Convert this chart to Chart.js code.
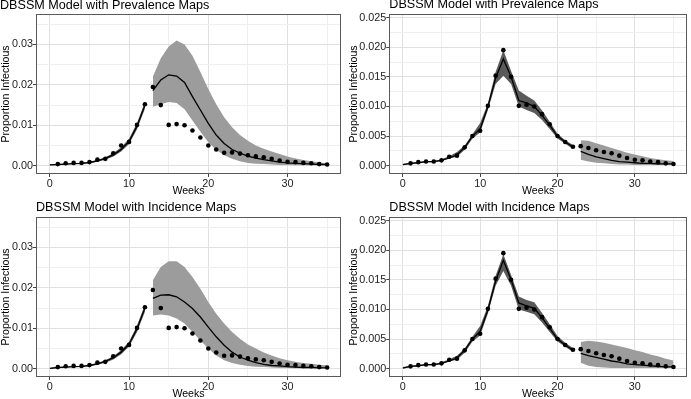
<!DOCTYPE html>
<html><head><meta charset="utf-8">
<script src="https://cdn.jsdelivr.net/npm/chart.js@4.4.1/dist/chart.umd.min.js"></script>
<style>
html,body{margin:0;padding:0;background:#fff;width:691px;height:399px;overflow:hidden;position:relative}
canvas{position:absolute;display:block}
</style></head><body>
<canvas id="c1" width="345" height="203" style="left:0px;top:-4px;width:345px;height:203px"></canvas>
<canvas id="c2" width="344" height="203" style="left:347px;top:-4px;width:344px;height:203px"></canvas>
<canvas id="c3" width="345" height="203" style="left:0px;top:199px;width:345px;height:203px"></canvas>
<canvas id="c4" width="344" height="203" style="left:347px;top:199px;width:344px;height:203px"></canvas>
<script>
// ---- data ----
const weeks = [1,2,3,4,5,6,7,8,9,10,11,12,13,14,15,16,17,18,19,20,21,22,23,24,25,26,27,28,29,30,31,32,33,34,35];
const observed = [0.0004,0.0006,0.0007,0.0007,0.0009,0.0015,0.0017,0.0031,0.0050,0.0059,0.0101,0.0152,0.0195,0.0150,0.0101,0.0103,0.0100,0.0087,0.0070,0.0050,0.0040,0.0032,0.0033,0.0030,0.0026,0.0023,0.0021,0.0017,0.0013,0.0010,0.0009,0.0007,0.0006,0.0004,0.0003];

const fitWeeksA = [0,1,2,3,4,5,6,7,8,9,10,11,12];
const projWeeksA = [13,14,15,16,17,18,19,20,21,22,23,24,25,26,27,28,29,30,31,32,33,34,35];
const fitWeeksB = [0,1,2,3,4,5,6,7,8,9,10,11,12,13,14,15,16,17,18,19,20,21,22];
const projWeeksB = [23,24,25,26,27,28,29,30,31,32,33,34,35];

// Prevalence maps, forecast from week 13
const prevFitMeanA = [0.0002,0.0003,0.0004,0.0005,0.0006,0.0008,0.0012,0.0018,0.0027,0.0040,0.0060,0.0098,0.0150];
const prevFitLoA   = [0.0001,0.0002,0.0003,0.0004,0.0005,0.0006,0.0010,0.0015,0.0023,0.0035,0.0054,0.0090,0.0141];
const prevFitHiA   = [0.0003,0.0004,0.0005,0.0006,0.0007,0.0010,0.0014,0.0021,0.0031,0.0046,0.0067,0.0106,0.0158];
const prevProjMeanA = [0.0186,0.0212,0.0225,0.0222,0.0206,0.0171,0.0138,0.0105,0.0076,0.0055,0.0040,0.0031,0.0024,0.0019,0.0015,0.0012,0.0009,0.0007,0.0006,0.0005,0.0004,0.0003,0.0003];
const prevProjLoA   = [0.0146,0.0152,0.0158,0.0155,0.0140,0.0112,0.0084,0.0058,0.0039,0.0026,0.0017,0.0011,0.0007,0.0005,0.0004,0.0003,0.0002,0.0002,0.0001,0.0001,0.0001,0.0001,0.0001];
const prevProjHiA   = [0.0220,0.0266,0.0295,0.0310,0.0300,0.0272,0.0232,0.0190,0.0152,0.0120,0.0095,0.0076,0.0062,0.0050,0.0042,0.0035,0.0029,0.0023,0.0018,0.0014,0.0011,0.0008,0.0006];

// Prevalence maps, forecast from week 23
const prevFitMeanB = [0.0002,0.0004,0.0005,0.0007,0.0007,0.0009,0.0013,0.0018,0.0031,0.0050,0.0062,0.0100,0.0148,0.0180,0.0150,0.0110,0.0106,0.0100,0.0085,0.0068,0.0050,0.0040,0.0032];
const prevFitLoB   = [0.0001,0.0003,0.0004,0.0006,0.0006,0.0008,0.0012,0.0015,0.0027,0.0046,0.0056,0.0094,0.0138,0.0152,0.0138,0.0100,0.0094,0.0089,0.0077,0.0062,0.0046,0.0037,0.0028];
const prevFitHiB   = [0.0003,0.0005,0.0006,0.0008,0.0008,0.0011,0.0016,0.0023,0.0034,0.0053,0.0072,0.0105,0.0158,0.0195,0.0160,0.0127,0.0118,0.0110,0.0093,0.0074,0.0054,0.0043,0.0035];
const prevProjMeanB = [0.0024,0.0019,0.0015,0.0012,0.0009,0.0007,0.0006,0.0005,0.0004,0.0004,0.0003,0.0003,0.0003];
const prevProjLoB   = [0.0010,0.0007,0.0005,0.0004,0.0003,0.0002,0.0002,0.0001,0.0001,0.0001,0.0001,0.0001,0.0001];
const prevProjHiB   = [0.0043,0.0042,0.0038,0.0034,0.0030,0.0026,0.0022,0.0019,0.0016,0.0013,0.0011,0.0009,0.0008];

// Incidence maps, forecast from week 13
const incFitMeanA = [0.0001,0.0003,0.0004,0.0005,0.0006,0.0008,0.0012,0.0018,0.0027,0.0041,0.0061,0.0099,0.0150];
const incFitLoA   = [0.0000,0.0002,0.0003,0.0004,0.0005,0.0006,0.0010,0.0015,0.0023,0.0036,0.0055,0.0091,0.0141];
const incFitHiA   = [0.0002,0.0004,0.0005,0.0006,0.0007,0.0010,0.0014,0.0021,0.0031,0.0046,0.0067,0.0107,0.0159];
const incProjMeanA = [0.0174,0.0182,0.0183,0.0178,0.0165,0.0149,0.0128,0.0103,0.0079,0.0058,0.0041,0.0029,0.0021,0.0015,0.0011,0.0008,0.0007,0.0005,0.0004,0.0003,0.0003,0.0002,0.0002];
const incProjLoA   = [0.0132,0.0134,0.0132,0.0124,0.0112,0.0091,0.0070,0.0050,0.0033,0.0021,0.0014,0.0010,0.0007,0.0005,0.0004,0.0003,0.0002,0.0002,0.0001,0.0001,0.0001,0.0001,0.0001];
const incProjHiA   = [0.0219,0.0252,0.0266,0.0266,0.0252,0.0227,0.0198,0.0165,0.0136,0.0112,0.0091,0.0074,0.0060,0.0050,0.0040,0.0033,0.0026,0.0021,0.0017,0.0014,0.0012,0.0010,0.0008];

// Incidence maps, forecast from week 23
const incFitMeanB = [0.0001,0.0004,0.0005,0.0007,0.0007,0.0009,0.0013,0.0018,0.0031,0.0050,0.0063,0.0099,0.0148,0.0183,0.0150,0.0111,0.0106,0.0102,0.0086,0.0068,0.0050,0.0040,0.0031];
const incFitLoB   = [0.0001,0.0003,0.0004,0.0006,0.0006,0.0008,0.0012,0.0015,0.0027,0.0046,0.0056,0.0093,0.0140,0.0165,0.0140,0.0100,0.0096,0.0092,0.0078,0.0062,0.0046,0.0037,0.0028];
const incFitHiB   = [0.0003,0.0005,0.0006,0.0008,0.0008,0.0011,0.0016,0.0022,0.0034,0.0054,0.0072,0.0106,0.0157,0.0193,0.0158,0.0122,0.0116,0.0112,0.0094,0.0075,0.0055,0.0044,0.0035];
const incProjMeanB = [0.0026,0.0022,0.0019,0.0016,0.0013,0.0011,0.0008,0.0007,0.0006,0.0005,0.0004,0.0003,0.0003];
const incProjLoB   = [0.0010,0.0005,0.0003,0.0002,0.0001,0.0001,0.0001,0.0001,0.0001,0.0001,0.0001,0.0001,0.0001];
const incProjHiB   = [0.0045,0.0047,0.0046,0.0044,0.0041,0.0038,0.0035,0.0031,0.0028,0.0024,0.0021,0.0017,0.0014];

const xMajorTicks = [0,10,20,30];
const xMinorTicks = [5,15,25,35];
const yTicksA = [0,0.01,0.02,0.03];
const yMinorA = [0.005,0.015,0.025,0.035];
const yTicksB = [0,0.005,0.010,0.015,0.020,0.025];
const yMinorB = [0.0025,0.0075,0.0125,0.0175,0.0225];

const titlePrev = 'DBSSM Model with Prevalence Maps';
const titleInc = 'DBSSM Model with Incidence Maps';

// ---- rendering ----
Chart.defaults.font.family = "'Liberation Sans', Arial, Helvetica, sans-serif";
Chart.defaults.color = '#000';

const zip = (xs, ys) => xs.map((x, i) => ({x: x, y: ys[i]}));
const isIn = (arr, v) => arr.some(a => Math.abs(a - v) < 1e-9);

const framePlugin = {
  id: 'frame',
  afterDraw(chart) {
    const a = chart.chartArea, c = chart.ctx;
    c.save();
    c.strokeStyle = '#5a5a5a';
    c.lineWidth = 1;
    c.strokeRect(Math.round(a.left) + 0.5, Math.round(a.top) + 0.5, Math.round(a.right - a.left) - 1, Math.round(a.bottom - a.top) - 1);
    c.restore();
  }
};

function makePanel(id, o) {
  const band = (xs, lo, hi, col, loIndex) => ([
    {data: zip(xs, lo), order: 3, borderWidth: 0, pointRadius: 0, fill: false, backgroundColor: col, borderColor: 'rgba(0,0,0,0)'},
    {data: zip(xs, hi), order: 3, borderWidth: 0, pointRadius: 0, fill: {target: loIndex}, backgroundColor: col, borderColor: 'rgba(0,0,0,0)'}
  ]);
  const line = (xs, ys) => ({data: zip(xs, ys), order: 2, borderColor: '#000', borderWidth: 1.3, pointRadius: 0, fill: false, tension: 0});
  const datasets = [
    ...band(o.fitX, o.fitLo, o.fitHi, o.fitCol, 0),
    ...band(o.projX, o.projLo, o.projHi, o.projCol, 2),
    line(o.fitX, o.fitMean),
    line(o.projX, o.projMean),
    {data: zip(weeks, observed), order: 1, showLine: false, pointRadius: 2.3, pointBackgroundColor: '#000', pointBorderWidth: 0, borderColor: '#000', fill: false}
  ];
  const gridCol = (minor) => (ctx) => ctx.tick && isIn(minor, ctx.tick.value) ? '#efefef' : '#e0e0e0';
  new Chart(document.getElementById(id), {
    type: 'line',
    data: {datasets},
    plugins: [framePlugin],
    options: {
      responsive: false,
      animation: false,
      events: [],
      layout: {padding: {left: 0, right: o.padRight, top: 0, bottom: 0}},
      plugins: {
        legend: {display: false},
        tooltip: {enabled: false},
        title: {
          display: true, text: o.title, align: 'start', fullSize: o.fullTitle,
          color: '#000', font: {size: 12.6, weight: 'normal', lineHeight: 1.17},
          padding: {top: o.titleTop, bottom: 3.26 - o.titleTop}
        }
      },
      scales: {
        x: {
          type: 'linear', min: -1.75, max: 36.75,
          afterBuildTicks: s => { s.ticks = [...xMajorTicks, ...xMinorTicks].sort((a,b)=>a-b).map(v => ({value: v})); },
          afterFit: s => { s.height = 25; },
          ticks: {autoSkip: false, maxRotation: 0, padding: 1, color: '#222', font: {size: 10.8},
                  callback: v => isIn(xMajorTicks, v) ? String(v) : ''},
          grid: {color: gridCol(xMinorTicks), lineWidth: 1, drawTicks: true, tickLength: 3,
                 tickColor: ctx => ctx.tick && isIn(xMajorTicks, ctx.tick.value) ? '#444' : 'rgba(0,0,0,0)'},
          border: {display: false},
          title: {display: true, text: 'Weeks', color: '#000', font: {size: 10.6}, padding: {top: 0, bottom: 1.2}}
        },
        y: {
          type: 'linear', min: o.yMin, max: o.yMax,
          afterBuildTicks: s => { s.ticks = [...o.yMajor, ...o.yMinor].sort((a,b)=>a-b).map(v => ({value: v})); },
          afterFit: s => { s.width = o.yWidth; },
          ticks: {autoSkip: false, padding: 0, color: '#222', font: {size: 10.8},
                  callback: v => isIn(o.yMajor, v) ? v.toFixed(o.dec) : ''},
          grid: {color: gridCol(o.yMinor), lineWidth: 1, drawTicks: true, tickLength: 3,
                 tickColor: ctx => ctx.tick && isIn(o.yMajor, ctx.tick.value) ? '#444' : 'rgba(0,0,0,0)'},
          border: {display: false},
          title: {display: true, text: 'Proportion Infectious', color: '#000', font: {size: 10.6}, padding: {top: o.yTitlePad, bottom: 0}}
        }
      }
    }
  });
}

const darkBand = '#5a5a5a';
const lightBand = '#9c9c9c';

makePanel('c1', {title: titlePrev, fullTitle: true, titleTop: 2.6, fitX: fitWeeksA, fitMean: prevFitMeanA, fitLo: prevFitLoA, fitHi: prevFitHiA,
  projX: projWeeksA, projMean: prevProjMeanA, projLo: prevProjLoA, projHi: prevProjHiA, fitCol: darkBand, projCol: lightBand,
  yMin: -0.00205, yMax: 0.03755, yMajor: yTicksA, yMinor: yMinorA, dec: 2, yWidth: 36, padRight: 2, yTitlePad: 0});
makePanel('c2', {title: titlePrev, fullTitle: false, titleTop: 1.6, fitX: fitWeeksB, fitMean: prevFitMeanB, fitLo: prevFitLoB, fitHi: prevFitHiB,
  projX: projWeeksB, projMean: prevProjMeanB, projLo: prevProjLoB, projHi: prevProjHiB, fitCol: darkBand, projCol: lightBand,
  yMin: -0.0014, yMax: 0.0256, yMajor: yTicksB, yMinor: yMinorB, dec: 3, yWidth: 42.3, padRight: 1.7, yTitlePad: 0.7});
makePanel('c3', {title: titleInc, fullTitle: false, titleTop: 1.6, fitX: fitWeeksA, fitMean: incFitMeanA, fitLo: incFitLoA, fitHi: incFitHiA,
  projX: projWeeksA, projMean: incProjMeanA, projLo: incProjLoA, projHi: incProjHiA, fitCol: darkBand, projCol: lightBand,
  yMin: -0.00205, yMax: 0.03755, yMajor: yTicksA, yMinor: yMinorA, dec: 2, yWidth: 36, padRight: 2, yTitlePad: 0});
makePanel('c4', {title: titleInc, fullTitle: false, titleTop: 1.6, fitX: fitWeeksB, fitMean: incFitMeanB, fitLo: incFitLoB, fitHi: incFitHiB,
  projX: projWeeksB, projMean: incProjMeanB, projLo: incProjLoB, projHi: incProjHiB, fitCol: darkBand, projCol: lightBand,
  yMin: -0.0014, yMax: 0.0256, yMajor: yTicksB, yMinor: yMinorB, dec: 3, yWidth: 42.3, padRight: 1.7, yTitlePad: 0.7});
</script>
</body></html>
